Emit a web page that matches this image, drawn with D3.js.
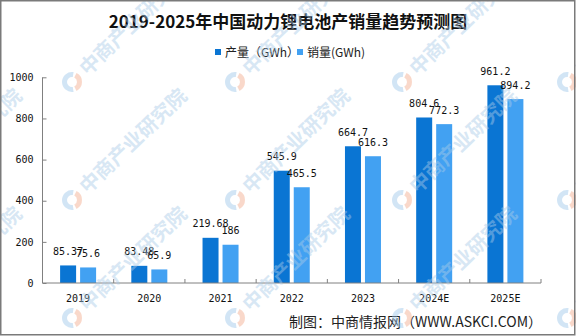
<!DOCTYPE html>
<html>
<head>
<meta charset="utf-8">
<script src="https://cdn.jsdelivr.net/npm/d3@7"></script>
<style>
  html, body { margin: 0; padding: 0; background: #fff; }
  svg { display: block; }
</style>
</head>
<body>
<div id="chart"></div>
<script>
// Chart data
const years = ["2019", "2020", "2021", "2022", "2023", "2024E", "2025E"];
const production = [85.37, 83.48, 219.68, 545.9, 664.7, 804.6, 961.2];
const sales = [75.6, 65.9, 186, 465.5, 616.3, 772.3, 894.2];
const seriesNames = ["产量（GWh）", "销量(GWh)"];
const yTicks = [0, 200, 400, 600, 800, 1000];
const titleText = "2019-2025年中国动力锂电池产销量趋势预测图";
const sourceText = "制图：中商情报网（WWW.ASKCI.COM）";
const watermarkText = "中商产业研究院";

const W = 576, H = 336;
const colors = ["#0a75d3", "#42a1f2"];
const numFont = "'DejaVu Sans Mono', monospace";
const cjkFont = "'Noto Sans CJK SC', sans-serif";

const svg = d3.select("#chart").append("svg")
  .attr("width", W).attr("height", H);

svg.append("rect").attr("width", W).attr("height", H).attr("fill", "#fff");

const plot = { left: 42.5, right: 541, top: 77.3, bottom: 283 };

const x0 = d3.scaleBand().domain(years).range([plot.left, plot.right]).padding(0);
const bw = x0.bandwidth();
const x1 = d3.scaleBand().domain([0, 1])
  .range([bw / 2 - 18, bw / 2 + 18]).paddingInner(0.2).paddingOuter(0);
const y = d3.scaleLinear().domain([0, 1000]).range([plot.bottom, plot.top]);

// Title
svg.append("text")
  .attr("x", 288).attr("y", 28)
  .attr("text-anchor", "middle")
  .attr("font-family", cjkFont).attr("font-weight", 700)
  .attr("font-size", 17).attr("fill", "#111")
  .text(titleText);

// Legend
const legendItems = [
  { x: 215, label: seriesNames[0] },
  { x: 297, label: seriesNames[1] }
];
const lg = svg.append("g");
legendItems.forEach((d, i) => {
  lg.append("rect").attr("x", d.x).attr("y", 49).attr("width", 6).attr("height", 6)
    .attr("fill", colors[i]);
  lg.append("text").attr("x", d.x + 10).attr("y", 56.5)
    .attr("font-family", cjkFont).attr("font-size", 12).attr("fill", "#222")
    .text(d.label);
});

// Bars
const rows = years.map((yr, i) => ({ year: yr, values: [production[i], sales[i]] }));
const groups = svg.append("g").selectAll("g").data(rows).join("g")
  .attr("transform", d => `translate(${x0(d.year)},0)`);

groups.selectAll("rect").data(d => d.values.map((v, k) => ({ k, v }))).join("rect")
  .attr("x", d => x1(d.k))
  .attr("width", x1.bandwidth())
  .attr("y", d => y(d.v))
  .attr("height", d => y(0) - y(d.v))
  .attr("fill", d => colors[d.k]);

groups.selectAll("text").data(d => d.values.map((v, k) => ({ k, v }))).join("text")
  .attr("x", d => x1(d.k) + x1.bandwidth() / 2)
  .attr("y", d => y(d.v) - 10.5)
  .attr("text-anchor", "middle")
  .attr("font-family", numFont).attr("font-size", 10).attr("fill", "#111")
  .text(d => d.v);

// Y axis
const yAxis = svg.append("g")
  .attr("transform", `translate(${plot.left},0)`)
  .call(d3.axisLeft(y).tickValues(yTicks).tickSize(-4).tickPadding(9).tickFormat(d3.format("d")));
yAxis.select(".domain").attr("stroke", "#808080").attr("d", `M-4,${plot.top}H0V${plot.bottom}`);
yAxis.selectAll(".tick line").attr("stroke", "#808080");
yAxis.selectAll(".tick text")
  .attr("font-family", numFont).attr("font-size", 10).attr("fill", "#111");
yAxis.select(".domain").attr("d", `M0,${plot.top}V${plot.bottom}`);

// X axis with boundary ticks
const xAxis = svg.append("g")
  .attr("transform", `translate(0,${plot.bottom})`);
xAxis.append("line")
  .attr("x1", plot.left).attr("x2", plot.right)
  .attr("stroke", "#808080");
const bounds = years.slice(1).map(d => x0(d)).concat([plot.right]);
xAxis.selectAll("line.bt").data(bounds).join("line")
  .attr("class", "bt")
  .attr("x1", d => d).attr("x2", d => d)
  .attr("y1", 0).attr("y2", -4)
  .attr("stroke", "#808080");
xAxis.selectAll("text").data(years).join("text")
  .attr("x", d => x0(d) + bw / 2)
  .attr("y", 18.5)
  .attr("text-anchor", "middle")
  .attr("font-family", numFont).attr("font-size", 10).attr("fill", "#111")
  .text(d => d);

// Source note
svg.append("text")
  .attr("x", 289).attr("y", 327)
  .attr("font-family", cjkFont).attr("font-size", 14).attr("fill", "#222")
  .text(sourceText);

// Watermark layer
const wmCols = [-93, 72, 235, 402, 567];
const wmRows = [82, 200, 318];
const wmPos = [];
wmRows.forEach(r => wmCols.forEach(c => wmPos.push([c, r])));
const wm = svg.append("g").attr("pointer-events", "none");
const marks = wm.selectAll("g").data(wmPos).join("g")
  .attr("transform", d => `translate(${d[0]},${d[1]})`);
const arc = d3.arc().innerRadius(5).outerRadius(10);
marks.append("path")
  .attr("d", arc({ startAngle: Math.PI * 0.95, endAngle: Math.PI * 2.05 }))
  .attr("fill", "#9cc6e8").attr("opacity", 0.45);
marks.append("path")
  .attr("d", arc({ startAngle: Math.PI * 0.15, endAngle: Math.PI * 0.85 }))
  .attr("fill", "#f2a98a").attr("opacity", 0.45);
marks.append("text")
  .attr("transform", "rotate(-44)")
  .attr("x", 15).attr("y", 7)
  .attr("font-family", cjkFont).attr("font-weight", 700)
  .attr("font-size", 20).attr("fill", "#a9cbe8").attr("opacity", 0.45)
  .text(watermarkText);

// Frame
svg.append("rect")
  .attr("x", 0.75).attr("y", 0.75).attr("width", W - 2).attr("height", H - 2)
  .attr("fill", "none").attr("stroke", "#7a7a7a").attr("stroke-width", 1.5);
</script>
</body>
</html>
